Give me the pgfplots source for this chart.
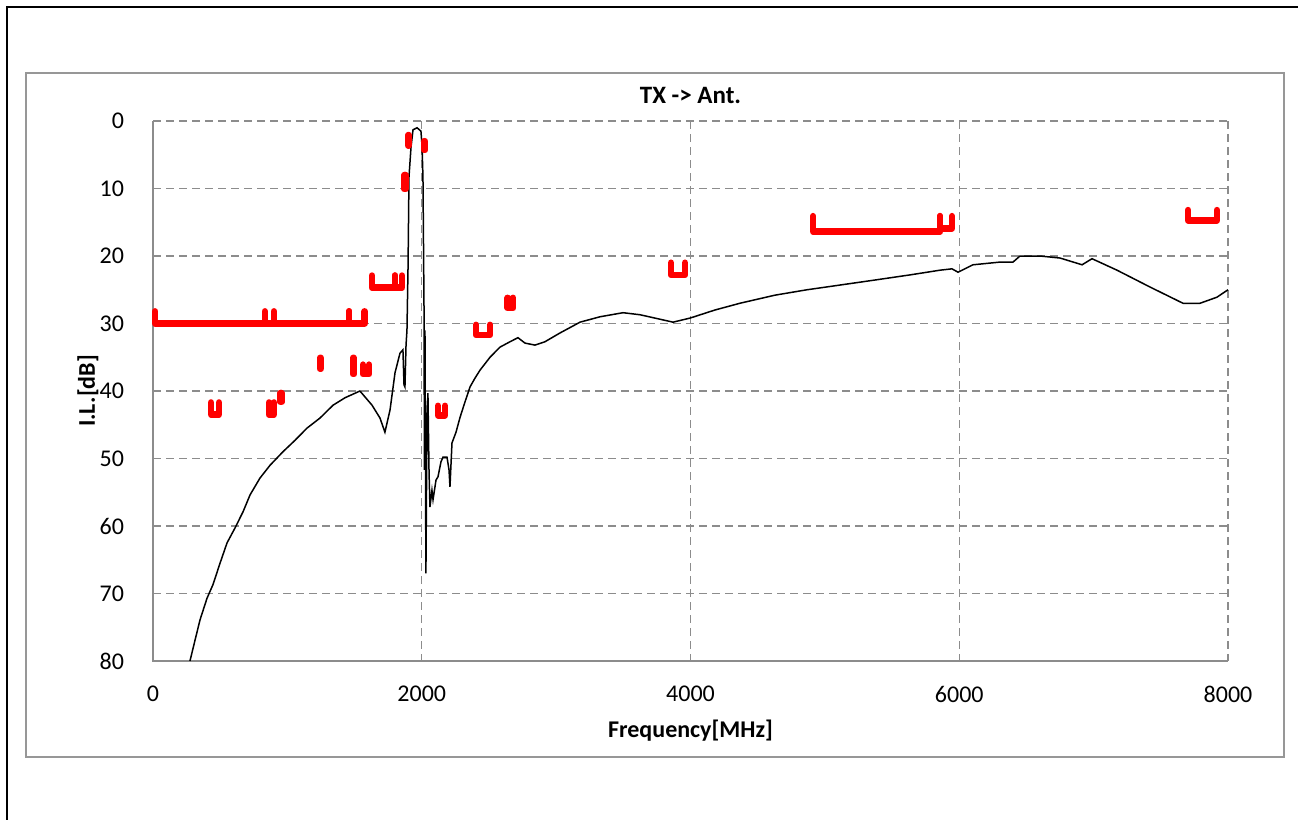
\documentclass[border=0pt]{standalone}
\usepackage{pgfplots}
\pgfplotsset{compat=1.18}
\usepackage{fontspec}
\setmainfont{Carlito}
\definecolor{gridgray}{RGB}{140,140,140}
\definecolor{specred}{RGB}{255,0,0}
\newcommand{\spec}[4]{\addplot[specred, line width=3.3pt, line cap=round, line join=round] coordinates {(#1,#3-#4) (#1,#3) (#2,#3) (#2,#3-#4)};}
\begin{document}
\begin{tikzpicture}
\useasboundingbox (0,0) rectangle (649pt,410pt);
\draw[black, line width=1.1pt] (3.5pt,0) -- (3.5pt,406.5pt) -- (650pt,406.5pt);
\draw[gridgray!90, line width=0.6pt] (13pt,31.5pt) rectangle (642pt,373.5pt);
\begin{axis}[
  at={(76.5pt,79.5pt)}, anchor=south west,
  width=537.5pt, height=270pt, scale only axis,
  xmin=0, xmax=8000, ymin=0, ymax=80, y dir=reverse,
  xtick={0,2000,4000,6000,8000}, ytick={0,10,20,30,40,50,60,70,80},
  major tick length=0pt,
  axis line style={draw=none},
  grid=major,
  major grid style={gridgray, dashed, line width=0.6pt, dash pattern=on 4pt off 2.5pt},
  scaled x ticks=false,
  /pgf/number format/1000 sep={},
  /pgf/number format/assume math mode=true,
  tick label style={font=\fontsize{12}{14}\selectfont},
  xticklabel style={yshift=-9pt},
  yticklabel style={xshift=-11pt},
  clip=false,
]
\draw[gridgray, line width=0.7pt] (axis cs:0,0) -- (axis cs:0,80) -- (axis cs:8000,80);
\addplot[black, line width=0.75pt] coordinates {
(275,80) (313,76.9) (350,73.9) (402,70.7) (446,68.7) (499,65.5) (551,62.5) (610,60.3)
(670,57.9) (722,55.4) (796,52.9) (871,51.0) (967,49.0) (1057,47.3) (1146,45.5) (1243,44.0)
(1340,42.1) (1429,41.0) (1540,40.0) (1630,42.1) (1689,44.0) (1726,46.1) (1764,42.8)
(1801,37.3) (1838,34.4) (1860,33.9) (1868,39.1) (1875,39.4) (1883,33.2) (1890,31.0)
(1898,21.6) (1905,8.3) (1920,3.9) (1935,1.3) (1965,1.0) (1994,1.5) (2002,3.6) (2009,8.3)
(2017,28.0) (2020,51.7) (2024,31.0) (2031,67.0) (2039,44.3) (2046,40.3) (2054,51.7)
(2061,57.2) (2076,54.7) (2084,56.1) (2106,53.2) (2121,52.7) (2143,50.5) (2158,49.8)
(2188,49.8) (2203,51.7) (2210,54.2) (2225,47.7) (2255,46.1) (2285,43.9) (2322,41.6)
(2359,39.4) (2396,38.1) (2434,36.9) (2508,35.0) (2582,33.5) (2657,32.7) (2716,32.1)
(2768,32.9) (2843,33.2) (2917,32.7) (3029,31.4) (3178,29.8) (3327,29.0) (3498,28.4)
(3624,28.7) (3736,29.2) (3870,29.8) (3996,29.2) (4182,28.0) (4368,27.0) (4629,25.8)
(4867,25.0) (5113,24.3) (5358,23.6) (5633,22.8) (5857,22.1) (5946,21.9) (5991,22.4)
(6102,21.3) (6303,20.9) (6400,20.9) (6452,20.0) (6601,20.0) (6750,20.3) (6914,21.3)
(6988,20.4) (7174,22.1) (7420,24.6) (7665,27.0) (7792,27.0) (7918,26.1) (8000,25.0)
};
\spec{15}{900}{30}{1.8}
\spec{832}{1460}{30}{1.8}
\spec{1460}{1575}{30}{1.8}
\spec{432}{491}{43.5}{1.8}
\spec{863}{900}{43.5}{1.8}
\spec{948}{958}{41.6}{1.3}
\spec{1242}{1250}{36.7}{1.6}
\spec{1488}{1496}{37.5}{2.4}
\spec{1563}{1608}{37.5}{1.4}
\spec{1630}{1800}{24.7}{1.8}
\spec{1800}{1853}{24.7}{1.8}
\spec{1872}{1878}{10.1}{2.1}
\spec{1898}{1905}{3.6}{1.5}
\spec{2017}{2024}{4.3}{1.3}
\spec{2121}{2173}{43.6}{1.4}
\spec{2404}{2508}{31.7}{1.5}
\spec{2640}{2680}{27.7}{1.5}
\spec{3855}{3959}{22.8}{1.8}
\spec{4912}{5857}{16.4}{2.3}
\spec{5857}{5946}{15.9}{1.8}
\spec{7703}{7918}{14.7}{1.5}
\end{axis}
\node[font=\fontsize{12.5}{15}\selectfont\bfseries] at (345.25pt,362.5pt) {TX -> Ant.};
\node[font=\fontsize{12}{14}\selectfont\bfseries] at (345.25pt,44.5pt) {Frequency[MHz]};
\node[font=\fontsize{12}{14}\selectfont\bfseries, rotate=90] at (44pt,214.5pt) {I.L.[dB]};
\end{tikzpicture}
\end{document}
